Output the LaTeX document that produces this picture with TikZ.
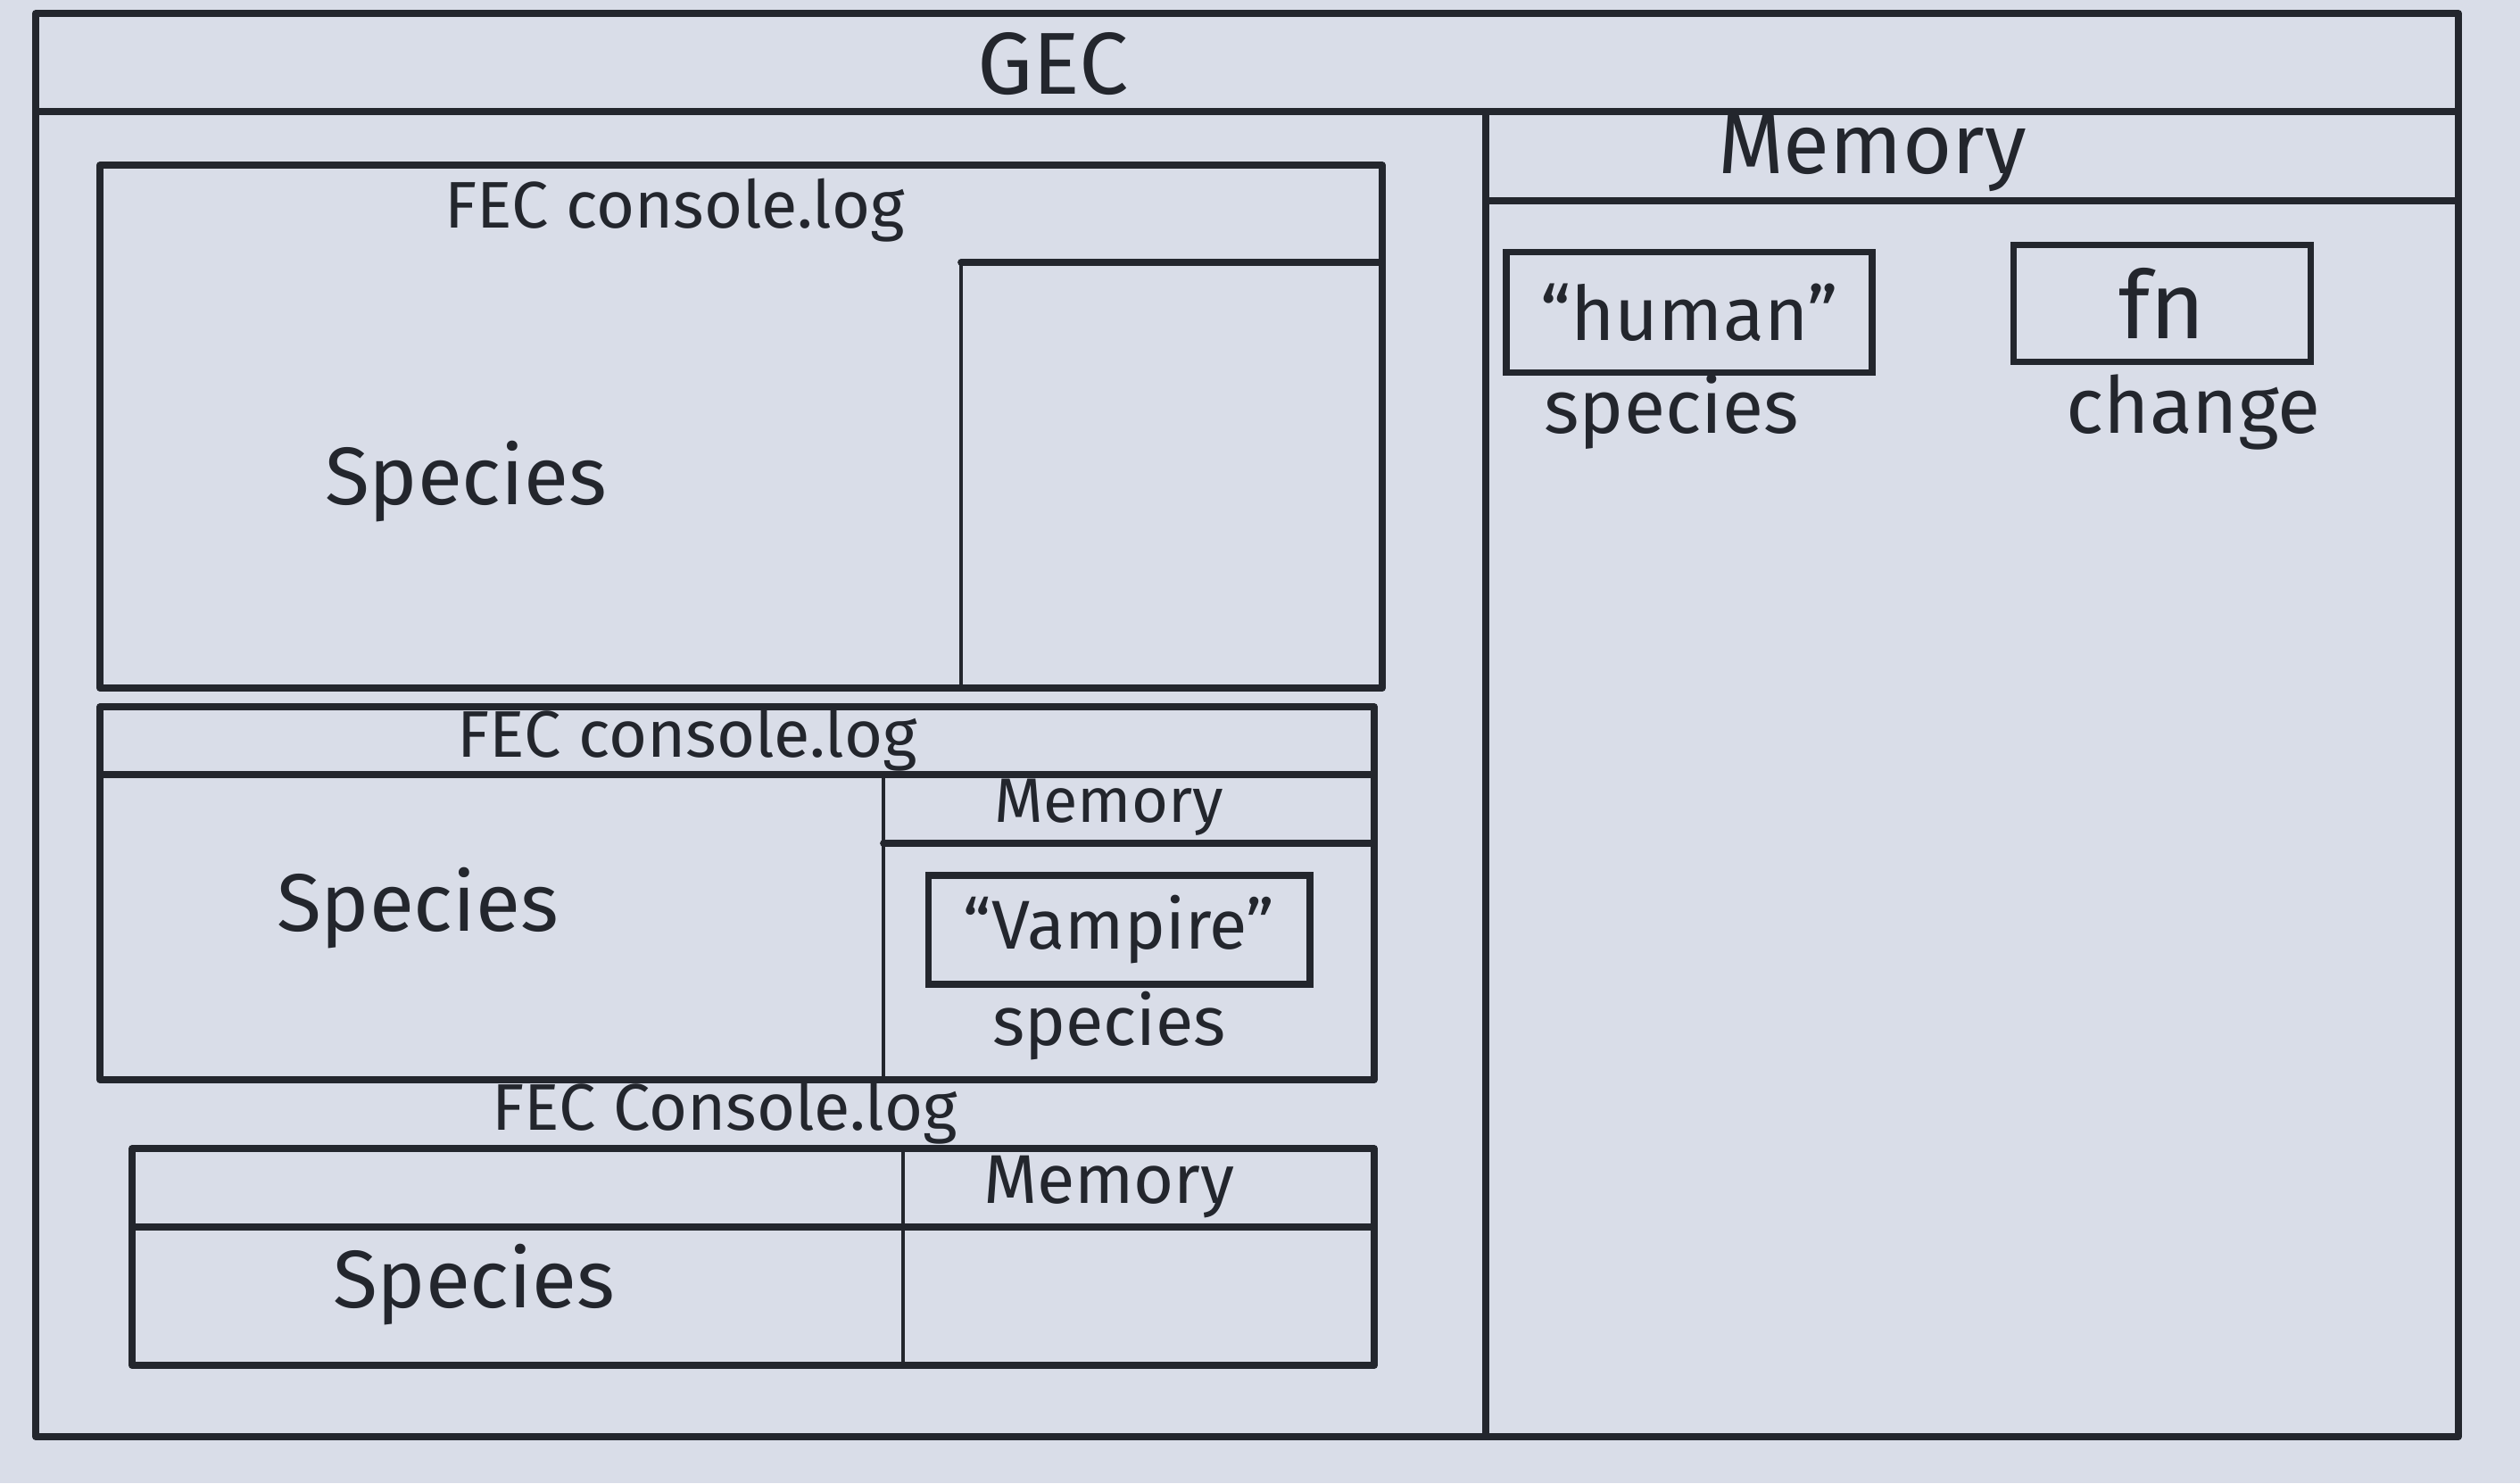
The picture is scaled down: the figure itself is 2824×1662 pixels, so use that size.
\documentclass[tikz,border=0pt]{standalone}
\usepackage{fontspec}
\setmainfont{Fira Sans}
\definecolor{paper}{HTML}{D9DDE8}
\definecolor{inkc}{HTML}{23262D}
\begin{document}
\begin{tikzpicture}[x=0.01cm,y=-0.01cm,
  ink/.style={draw=inkc, line width=2.2pt, line join=round, line cap=round},
  thinink/.style={draw=inkc, line width=1.4pt, line cap=round},
  lbl/.style={text=inkc, inner sep=0pt, font=\fontsize{#1pt}{#1pt}\selectfont},
  valbox/.style={draw=inkc, line width=2.2pt, inner sep=0pt}]
\fill[paper] (0,0) rectangle (2824,1662);
\useasboundingbox (0,0) rectangle (2824,1662);

% GEC outer frame
\draw[ink] (40,15) rectangle (2755,1610);
\node[lbl=28] (gec) at (1180,72) {GEC};
\draw[ink] (40,125) -- (2755,125);
\draw[ink] (1665,125) -- (1665,1610);

% GEC memory
\node[lbl=27] (gmem) at (2098,172) {Memory};
\draw[ink] (1665,225) -- (2755,225);
\node[valbox, lbl=24, minimum width=4.1cm, minimum height=1.35cm] (human) at (1893,350) {“human”};
\node[lbl=24] (humanlbl) at (1873,462) {species};
\node[valbox, lbl=30, minimum width=3.33cm, minimum height=1.31cm] (fn) at (2423,340) {fn};
\node[lbl=25] (fnlbl) at (2458,462) {change};

% FEC 1
\draw[ink] (112,185) rectangle (1549,771);
\node[lbl=21] (fec1) at (756,236) {FEC console.log};
\draw[ink] (1077,294) -- (1549,294);
\draw[thinink] (1077,294) -- (1077,771);
\node[lbl=26] (sp1) at (522,540) {Species};

% FEC 2
\draw[ink] (112,792) rectangle (1540,1210);
\node[lbl=21] (fec2) at (770,829) {FEC console.log};
\draw[ink] (112,868) -- (1540,868);
\draw[thinink] (990,868) -- (990,1210);
\node[lbl=20] (mem2) at (1243,905) {Memory};
\draw[ink] (990,945) -- (1540,945);
\node[valbox, lbl=22, minimum width=4.27cm, minimum height=1.22cm] (vamp) at (1254,1042) {“Vampire”};
\node[lbl=22] (vamplbl) at (1243,1150) {species};
\node[lbl=26] (sp2) at (468,1018) {Species};

% FEC 3
\node[lbl=21] (fec3) at (812,1247) {FEC Console.log};
\draw[ink] (148,1287) rectangle (1540,1530);
\draw[ink] (148,1375) -- (1540,1375);
\draw[thinink] (1012,1287) -- (1012,1530);
\node[lbl=22] (mem3) at (1243,1330) {Memory};
\node[lbl=26] (sp3) at (531,1440) {Species};
\end{tikzpicture}
\end{document}
